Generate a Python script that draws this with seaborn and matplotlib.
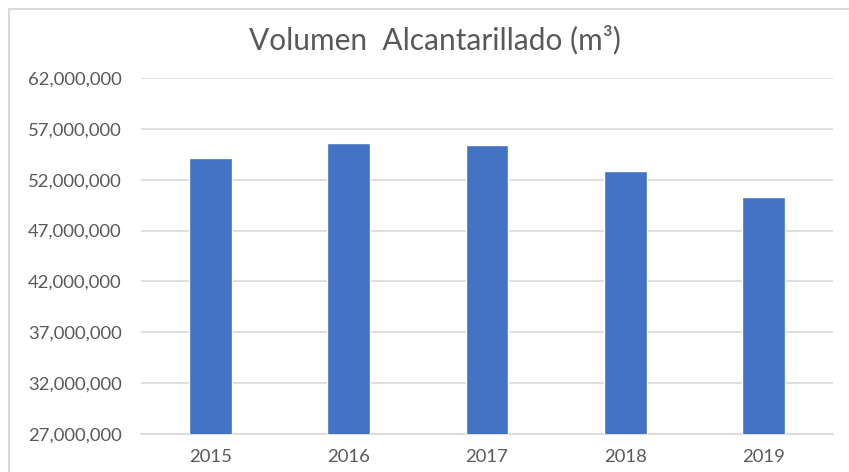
import matplotlib
matplotlib.use("Agg")
import matplotlib.pyplot as plt
import seaborn as sns
import pandas as pd
from matplotlib.ticker import FuncFormatter, FixedLocator
from matplotlib.patches import Rectangle

years = ["2015", "2016", "2017", "2018", "2019"]
volumes = [54140000, 55580000, 55420000, 52890000, 50290000]
y_ticks = [27000000, 32000000, 37000000, 42000000, 47000000, 52000000, 57000000, 62000000]
title_text = "Volumen  Alcantarillado (m³)"

sns.set_theme(style="white")
plt.rcParams['font.family'] = ['Lato', 'DejaVu Sans']

df = pd.DataFrame({"year": years, "volume": volumes})

fig = plt.figure(figsize=(8.49, 4.72), dpi=100)
ax = fig.add_axes([141/849, 1-434/472, (833-141)/849, (434-78)/472])

sns.barplot(data=df, x="year", y="volume", color="#4472C4", width=0.31,
            saturation=1, ax=ax, zorder=3)

ax.set_ylim(y_ticks[0], y_ticks[-1])
ax.yaxis.set_major_locator(FixedLocator(y_ticks))
ax.yaxis.set_major_formatter(FuncFormatter(lambda v, p: f"{int(round(v)):,}"))
ax.grid(axis="y", color="#D9D9D9", linewidth=1.2, zorder=0)
ax.set_axisbelow(True)
for s in ["top", "right", "left"]:
    ax.spines[s].set_visible(False)
ax.spines["bottom"].set_color("#D9D9D9")
ax.spines["bottom"].set_linewidth(1.2)
ax.set_xlabel("")
ax.set_ylabel("")
ax.tick_params(axis="both", length=0, labelsize=13.3, labelcolor="#595959")
ax.tick_params(axis="y", pad=14)
ax.tick_params(axis="x", pad=11)

fig.text(435/849, 1-40/472, title_text, ha="center", va="center",
         fontsize=21.5, color="#595959")

fig.patches.append(Rectangle((9/849, -0.1), 1.0, 1-9/472+0.1, transform=fig.transFigure,
                             fill=False, edgecolor="#D9D9D9", linewidth=1.5, figure=fig))

fig.savefig("out.png", dpi=100)
